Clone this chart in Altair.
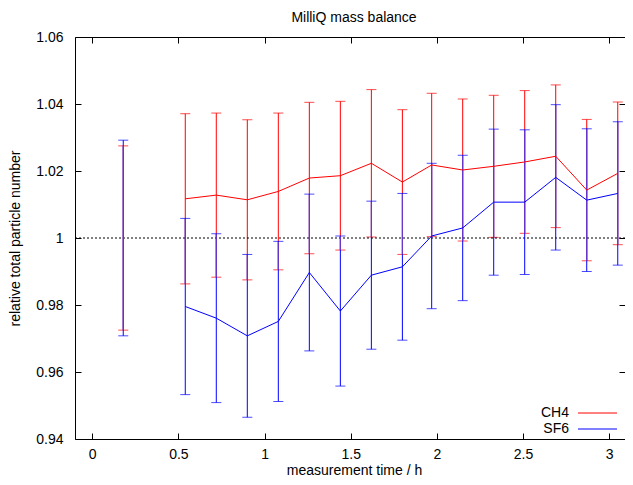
import altair as alt
import pandas as pd

# ---------------- data ----------------
times = [0.18, 0.54, 0.72, 0.90, 1.08, 1.26, 1.44, 1.62, 1.80, 1.97,
         2.15, 2.33, 2.51, 2.69, 2.87, 3.05]
segment = [0] + [1] * 15  # first point is not connected to the rest
ch4_mean = [1.0, 1.0117, 1.0128, 1.0114, 1.0139, 1.0179, 1.0186, 1.0223,
            1.0167, 1.0218, 1.0203, 1.0214, 1.0227, 1.0244, 1.0143, 1.0193]
ch4_err = [0.0275, 0.0254, 0.0245, 0.0239, 0.0234, 0.0226, 0.0222, 0.0220,
           0.0216, 0.0214, 0.0212, 0.0212, 0.0213, 0.0213, 0.0211, 0.0213]
sf6_mean = [1.0, 0.97955, 0.97607, 0.97079, 0.9751, 0.9897, 0.9782, 0.9889,
            0.9914, 1.0006, 1.0030, 1.0107, 1.0107, 1.0181, 1.0113, 1.0133]
sf6_err = [0.0292, 0.0263, 0.0252, 0.0243, 0.0239, 0.0234, 0.0224, 0.0221,
           0.0219, 0.0217, 0.0217, 0.0218, 0.0216, 0.0217, 0.0213, 0.0214]
series_names = ["CH4", "SF6"]
series_colors = ["#ff0000", "#0000ff"]
overlap_color = "#7440c4"
x_ticks = [0, 0.5, 1, 1.5, 2, 2.5, 3]
y_ticks = [0.94, 0.96, 0.98, 1.0, 1.02, 1.04, 1.06]
ref_level = [1.0]

x_domain = [-0.1, 3.092]
y_domain = [0.94, 1.06]

W, H = 550, 402
PAD_T, PAD_L, PAD_B = 29, 67, 38
FONT = "Liberation Sans"
FS = 14


def make_df(mean, err, name):
    return pd.DataFrame({
        "t": times,
        "seg": segment,
        "m": mean,
        "lo": [a - b for a, b in zip(mean, err)],
        "hi": [a + b for a, b in zip(mean, err)],
        "series": name,
    })


df_ch4 = make_df(ch4_mean, ch4_err, series_names[0])
df_sf6 = make_df(sf6_mean, sf6_err, series_names[1])

# where the two error bars overlap (drawn blended)
df_ov = pd.DataFrame({
    "t": times,
    "lo": [max(a, b) for a, b in zip(df_ch4["lo"], df_sf6["lo"])],
    "hi": [min(a, b) for a, b in zip(df_ch4["hi"], df_sf6["hi"])],
})
df_ov = df_ov[df_ov["lo"] < df_ov["hi"]]


def caps(df):
    return pd.concat([
        pd.DataFrame({"t": df["t"], "v": df["lo"]}),
        pd.DataFrame({"t": df["t"], "v": df["hi"]}),
    ])


xs = alt.Scale(domain=x_domain, nice=False, zero=False)
ys = alt.Scale(domain=y_domain, nice=False, zero=False)

ax_main_x = alt.Axis(orient="bottom", values=x_ticks, format="~g", offset=-6,
                     tickSize=6, domain=False, labelPadding=8,
                     title="measurement time / h", titlePadding=2, titleX=279)
ax_main_y = alt.Axis(orient="left", values=y_ticks, format="~g", offset=-6,
                     tickSize=6, domain=False, labelPadding=12,
                     title="relative total particle number", titlePadding=13)
ax_top = alt.Axis(orient="top", values=x_ticks, offset=-6, tickSize=6,
                  domain=False, labels=False, title=None)
ax_right = alt.Axis(orient="right", values=y_ticks, offset=-6, tickSize=6,
                    domain=False, labels=False, title=None)
ax_dom_x_b = alt.Axis(orient="bottom", ticks=False, labels=False, domain=True,
                      title=None)
ax_dom_y_l = alt.Axis(orient="left", ticks=False, labels=False, domain=True,
                      title=None)
ax_dom_x_t = alt.Axis(orient="top", ticks=False, labels=False, domain=True,
                      title=None)

red_rules = alt.Chart(df_ch4).mark_rule(color=series_colors[0], strokeWidth=1).encode(
    x=alt.X("t:Q", scale=xs, axis=ax_main_x),
    y=alt.Y("lo:Q", scale=ys, axis=ax_main_y),
    y2="hi:Q",
)
red_caps = alt.Chart(caps(df_ch4)).mark_tick(
    color=series_colors[0], orient="horizontal", size=10, thickness=1
).encode(
    x=alt.X("t:Q", scale=xs, axis=ax_top),
    y=alt.Y("v:Q", scale=ys, axis=ax_right),
)
red_line = alt.Chart(df_ch4[df_ch4["seg"] == 1]).mark_line(
    color=series_colors[0], strokeWidth=1
).encode(
    x=alt.X("t:Q", scale=xs, axis=ax_dom_x_b),
    y=alt.Y("m:Q", scale=ys, axis=ax_dom_y_l),
)
blue_rules = alt.Chart(df_sf6).mark_rule(
    color=series_colors[1], strokeWidth=1
).encode(
    x=alt.X("t:Q", scale=xs, axis=ax_dom_x_t),
    y=alt.Y("lo:Q", scale=ys, axis=None),
    y2="hi:Q",
)
ov_rules = alt.Chart(df_ov).mark_rule(color=overlap_color, strokeWidth=1).encode(
    x=alt.X("t:Q", scale=xs, axis=None),
    y=alt.Y("lo:Q", scale=ys, axis=None),
    y2="hi:Q",
)
blue_caps = alt.Chart(caps(df_sf6)).mark_tick(
    color=series_colors[1], orient="horizontal", size=10, thickness=1
).encode(
    x=alt.X("t:Q", scale=xs, axis=None),
    y=alt.Y("v:Q", scale=ys, axis=None),
)
blue_line = alt.Chart(df_sf6[df_sf6["seg"] == 1]).mark_line(
    color=series_colors[1], strokeWidth=1
).encode(
    x=alt.X("t:Q", scale=xs, axis=None),
    y=alt.Y("m:Q", scale=ys, axis=None),
)
ref_rule = alt.Chart(pd.DataFrame({"y": ref_level})).mark_rule(
    color="#000000", strokeWidth=1, strokeDash=[2, 2]
).encode(y=alt.Y("y:Q", scale=ys, axis=None))

# legend (gnuplot style: label then line sample)
legend_layers = []
for i, (name, col) in enumerate(zip(series_names, series_colors)):
    yy = H - 26 + 16 * i
    legend_layers.append(
        alt.Chart(pd.DataFrame({"s": [name]})).mark_text(
            align="right", baseline="middle", font=FONT, fontSize=FS, color="#000000"
        ).encode(x=alt.value(494), y=alt.value(yy), text="s:N")
    )
    legend_layers.append(
        alt.Chart(pd.DataFrame({"s": [name]})).mark_rule(color=col, strokeWidth=1).encode(
            x=alt.value(503), x2=alt.value(542), y=alt.value(yy)
        )
    )

chart = alt.layer(
    red_rules, red_caps, ref_rule, blue_rules, ov_rules, red_line, blue_caps,
    blue_line, *legend_layers
).resolve_axis(x="independent", y="independent").properties(
    width=W, height=H,
    title=alt.TitleParams("MilliQ mass balance", font=FONT, fontSize=FS,
                          fontWeight="normal", color="#000000", offset=5,
                          anchor="middle", dx=4),
    autosize=alt.AutoSizeParams(type="none"),
    padding={"left": PAD_L, "top": PAD_T, "right": 0, "bottom": PAD_B},
).configure_view(stroke=None).configure_axis(
    grid=False, labelFont=FONT, titleFont=FONT, labelFontSize=FS,
    titleFontSize=FS, titleFontWeight="normal", labelColor="#000000",
    titleColor="#000000", tickColor="#000000", domainColor="#000000",
    labelFlush=False, labelOverlap=False,
)

chart.save("out.html", embed_options={"renderer": "svg", "actions": False})
